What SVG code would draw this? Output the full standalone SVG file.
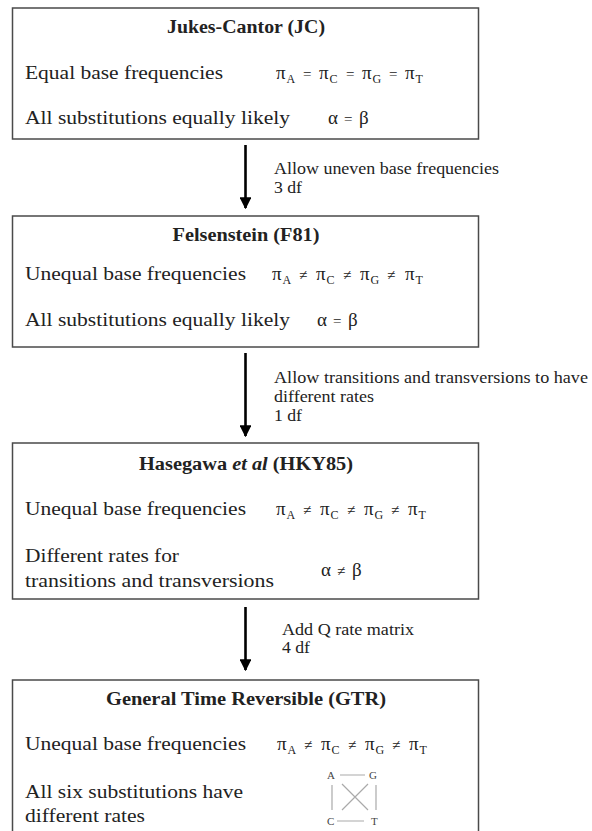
<svg xmlns="http://www.w3.org/2000/svg" width="592" height="831" viewBox="0 0 592 831">
<style>
.box{fill:#fff;stroke:#4a4a4a;stroke-width:1.5}
text{font-family:"Liberation Serif","Times New Roman",serif;fill:#222}
.t{font-size:18px;font-weight:bold;text-anchor:middle}
.b{font-size:19px}
.l{font-size:16px}
.m{font-size:19px}
.s{font-size:12px}
.o{font-size:15px}
.q{font-size:11px;fill:#444}
.ql{stroke:#aaa;stroke-width:1.2;fill:none}
.arr{stroke:#000;stroke-width:2.6}
</style>
<defs>
<marker id="ah" viewBox="0 0 10 10" refX="9" refY="5" markerWidth="4.6" markerHeight="4.6" orient="auto" markerUnits="strokeWidth">
<path d="M0,0 L10,5 L0,10 Z" fill="#000"/>
</marker>
</defs>
<rect width="592" height="831" fill="#fff"/>

<g id="connectors">
<line class="arr" x1="245.5" y1="145" x2="245.5" y2="208" marker-end="url(#ah)"/>
<line class="arr" x1="245.5" y1="353" x2="245.5" y2="436" marker-end="url(#ah)"/>
<line class="arr" x1="245.5" y1="607" x2="245.5" y2="670" marker-end="url(#ah)"/>
<text class="l" x="274" y="174" textLength="225" lengthAdjust="spacingAndGlyphs">Allow uneven base frequencies</text>
<text class="l" x="274" y="193" textLength="28" lengthAdjust="spacingAndGlyphs">3 df</text>
<text class="l" x="274" y="383" textLength="314" lengthAdjust="spacingAndGlyphs">Allow transitions and transversions to have</text>
<text class="l" x="274" y="402" textLength="100" lengthAdjust="spacingAndGlyphs">different rates</text>
<text class="l" x="274" y="421" textLength="28" lengthAdjust="spacingAndGlyphs">1 df</text>
<text class="l" x="282" y="635" textLength="132" lengthAdjust="spacingAndGlyphs">Add Q rate matrix</text>
<text class="l" x="282" y="653" textLength="28" lengthAdjust="spacingAndGlyphs">4 df</text>
</g>

<g id="jc">
<rect class="box" x="12.5" y="8" width="466" height="131"/>
<text class="t" x="246" y="33" textLength="158" lengthAdjust="spacingAndGlyphs">Jukes-Cantor (JC)</text>
<text class="b" x="25" y="79" textLength="198" lengthAdjust="spacingAndGlyphs">Equal base frequencies</text>
<text class="m"><tspan x="276" y="79">π</tspan><tspan class="s" x="286.5" y="83">A</tspan><tspan class="o" x="303" y="79">=</tspan><tspan x="319" y="79">π</tspan><tspan class="s" x="329.5" y="83">C</tspan><tspan class="o" x="346" y="79">=</tspan><tspan x="362" y="79">π</tspan><tspan class="s" x="372.5" y="83">G</tspan><tspan class="o" x="389" y="79">=</tspan><tspan x="405" y="79">π</tspan><tspan class="s" x="415.5" y="83">T</tspan></text>
<text class="b" x="25" y="124" textLength="265" lengthAdjust="spacingAndGlyphs">All substitutions equally likely</text>
<text class="m"><tspan x="328" y="124">α</tspan><tspan class="o" x="344" y="124">=</tspan><tspan x="359" y="124">β</tspan></text>
</g>

<g id="f81">
<rect class="box" x="12.5" y="216" width="466" height="131"/>
<text class="t" x="246" y="241" textLength="147" lengthAdjust="spacingAndGlyphs">Felsenstein (F81)</text>
<text class="b" x="25" y="280" textLength="221" lengthAdjust="spacingAndGlyphs">Unequal base frequencies</text>
<text class="m"><tspan x="272" y="280">π</tspan><tspan class="s" x="282.5" y="284">A</tspan><tspan class="o" x="299" y="280">≠</tspan><tspan x="316" y="280">π</tspan><tspan class="s" x="326.5" y="284">C</tspan><tspan class="o" x="343" y="280">≠</tspan><tspan x="360" y="280">π</tspan><tspan class="s" x="370.5" y="284">G</tspan><tspan class="o" x="387" y="280">≠</tspan><tspan x="405" y="280">π</tspan><tspan class="s" x="415.5" y="284">T</tspan></text>
<text class="b" x="25" y="326" textLength="265" lengthAdjust="spacingAndGlyphs">All substitutions equally likely</text>
<text class="m"><tspan x="317" y="326">α</tspan><tspan class="o" x="333" y="326">=</tspan><tspan x="348" y="326">β</tspan></text>
</g>

<g id="hky85">
<rect class="box" x="12.5" y="443" width="466" height="156"/>
<text class="t" x="246" y="470" textLength="214" lengthAdjust="spacingAndGlyphs">Hasegawa <tspan font-style="italic">et al</tspan> (HKY85)</text>
<text class="b" x="25" y="515" textLength="221" lengthAdjust="spacingAndGlyphs">Unequal base frequencies</text>
<text class="m"><tspan x="276" y="515">π</tspan><tspan class="s" x="286.5" y="519">A</tspan><tspan class="o" x="303" y="515">≠</tspan><tspan x="320" y="515">π</tspan><tspan class="s" x="330.5" y="519">C</tspan><tspan class="o" x="347" y="515">≠</tspan><tspan x="364" y="515">π</tspan><tspan class="s" x="374.5" y="519">G</tspan><tspan class="o" x="391" y="515">≠</tspan><tspan x="408" y="515">π</tspan><tspan class="s" x="418.5" y="519">T</tspan></text>
<text class="b" x="25" y="562" textLength="154" lengthAdjust="spacingAndGlyphs">Different rates for</text>
<text class="b" x="25" y="587" textLength="249" lengthAdjust="spacingAndGlyphs">transitions and transversions</text>
<text class="m"><tspan x="321" y="576">α</tspan><tspan class="o" x="337" y="576">≠</tspan><tspan x="352" y="576">β</tspan></text>
</g>

<g id="gtr">
<rect class="box" x="12.5" y="680" width="466" height="170"/>
<text class="t" x="246" y="705" textLength="280" lengthAdjust="spacingAndGlyphs">General Time Reversible (GTR)</text>
<text class="b" x="25" y="750" textLength="221" lengthAdjust="spacingAndGlyphs">Unequal base frequencies</text>
<text class="m"><tspan x="277" y="750">π</tspan><tspan class="s" x="287.5" y="754">A</tspan><tspan class="o" x="304" y="750">≠</tspan><tspan x="321" y="750">π</tspan><tspan class="s" x="331.5" y="754">C</tspan><tspan class="o" x="348" y="750">≠</tspan><tspan x="365" y="750">π</tspan><tspan class="s" x="375.5" y="754">G</tspan><tspan class="o" x="392" y="750">≠</tspan><tspan x="409" y="750">π</tspan><tspan class="s" x="419.5" y="754">T</tspan></text>
<text class="b" x="25" y="798" textLength="218" lengthAdjust="spacingAndGlyphs">All six substitutions have</text>
<text class="b" x="25" y="822" textLength="120" lengthAdjust="spacingAndGlyphs">different rates</text>
<text class="q" x="327" y="779">A</text>
<text class="q" x="369" y="779">G</text>
<text class="q" x="327" y="825">C</text>
<text class="q" x="371" y="825">T</text>
<path class="ql" d="M340,775 H365 M337,821 H364 M332,785 V810 M376,785 V810 M342,784 L368,810 M368,784 L342,810"/>
</g>
</svg>
